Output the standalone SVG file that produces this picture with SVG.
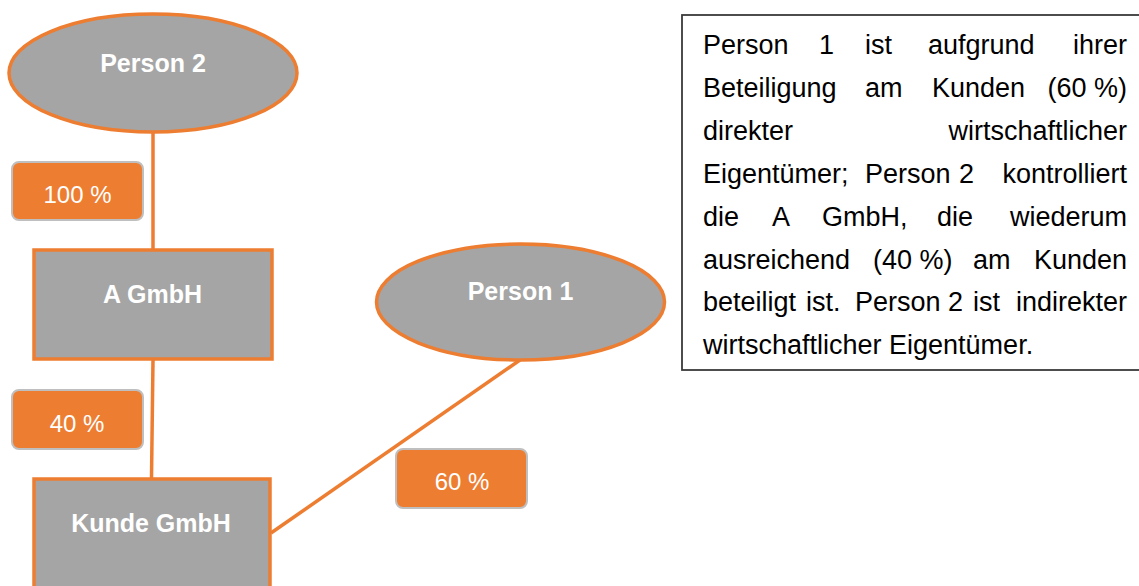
<svg xmlns="http://www.w3.org/2000/svg" width="1139" height="586" viewBox="0 0 1139 586">
<style>
.node{fill:#A5A5A5;stroke:#ED7D31;stroke-width:3.5}
.nt{font-family:"Liberation Sans",Arial,sans-serif;font-weight:bold;font-size:25px;fill:#FFFFFF;text-anchor:middle}
.conn{stroke:#ED7D31;stroke-width:3.5;fill:none}
.lbl{fill:#ED7D31;stroke:#BFBFBF;stroke-width:2}
.lt{font-family:"Liberation Sans",Arial,sans-serif;font-size:24px;fill:#FFFFFF;text-anchor:middle}
.body{font-family:"Liberation Sans",Arial,sans-serif;font-size:27px;fill:#000000}
.e{text-anchor:end}
</style>
<rect width="1139" height="586" fill="#FFFFFF"/>
<g id="connectors">
<line class="conn" x1="153" y1="133" x2="153" y2="249"/>
<line class="conn" x1="153" y1="360" x2="151.5" y2="478"/>
<line class="conn" x1="520" y1="360" x2="271" y2="533"/>
</g>
<g id="person2">
<ellipse class="node" cx="153" cy="73" rx="144" ry="59"/>
<text class="nt" x="153" y="72">Person 2</text>
</g>
<g id="agmbh">
<rect class="node" x="34" y="250" width="238" height="109"/>
<text class="nt" x="152.5" y="303">A GmbH</text>
</g>
<g id="person1">
<ellipse class="node" cx="520.5" cy="302" rx="144" ry="58"/>
<text class="nt" x="520.5" y="300">Person 1</text>
</g>
<g id="kunde">
<rect class="node" x="34" y="479" width="236" height="120"/>
<text class="nt" x="151" y="532">Kunde GmbH</text>
</g>
<g id="label100">
<rect class="lbl" x="12" y="162" width="131" height="58" rx="7"/>
<text class="lt" x="77.5" y="203">100 %</text>
</g>
<g id="label40">
<rect class="lbl" x="12" y="390" width="131" height="59" rx="7"/>
<text class="lt" x="77" y="432">40 %</text>
</g>
<g id="label60">
<rect class="lbl" x="396" y="449" width="131" height="59" rx="7"/>
<text class="lt" x="462" y="490">60 %</text>
</g>
<g id="textbox">
<rect x="682" y="15" width="470" height="355" fill="#FFFFFF" stroke="#3A3A3A" stroke-width="1.8"/>
<g class="body">
<text y="54"><tspan x="703">Person</tspan><tspan x="819">1</tspan><tspan x="865">ist</tspan><tspan x="928">aufgrund</tspan></text>
<text class="e" x="1127" y="54">ihrer</text>
<text y="97"><tspan x="703">Beteiligung</tspan><tspan x="865">am</tspan><tspan x="932">Kunden</tspan></text>
<text class="e" x="1127" y="97">(60 %)</text>
<text x="703" y="140">direkter</text>
<text class="e" x="1127" y="140">wirtschaftlicher</text>
<text y="183"><tspan x="703">Eigentümer;</tspan><tspan x="865">Person</tspan><tspan x="959">2</tspan></text>
<text class="e" x="1127" y="183">kontrolliert</text>
<text y="226"><tspan x="703">die</tspan><tspan x="772">A</tspan><tspan x="822">GmbH,</tspan><tspan x="937">die</tspan></text>
<text class="e" x="1127" y="226">wiederum</text>
<text y="269"><tspan x="703">ausreichend</tspan><tspan x="873">(40 %)</tspan><tspan x="973">am</tspan></text>
<text class="e" x="1127" y="269">Kunden</text>
<text y="311"><tspan x="703">beteiligt</tspan><tspan x="806">ist.</tspan><tspan x="855">Person</tspan><tspan x="948">2</tspan><tspan x="973">ist</tspan></text>
<text class="e" x="1127" y="311">indirekter</text>
<text x="703" y="354">wirtschaftlicher Eigentümer.</text>
</g>
</g>
</svg>
